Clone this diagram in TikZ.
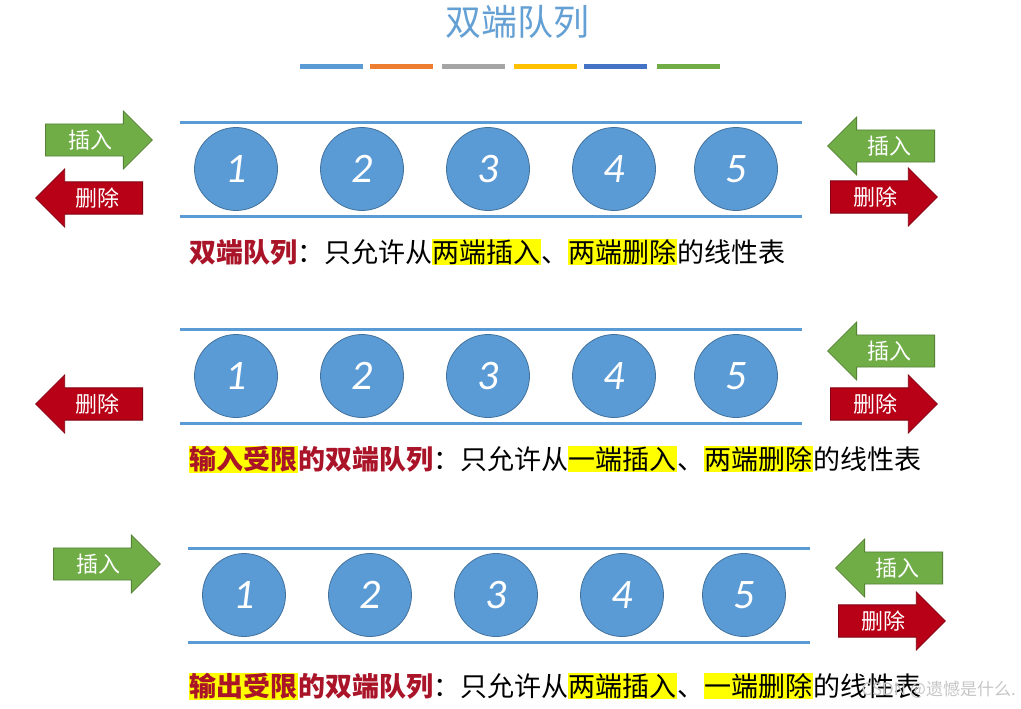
\documentclass[tikz,border=0pt]{standalone}
\usepackage{fontspec}
\setmainfont{Noto Sans CJK SC}
\newfontfamily\numfont{Carlito}
\usepackage{tikz}
\usetikzlibrary{shapes.arrows,positioning}
\usepackage{xcolor}
\definecolor{qblue}{RGB}{91,155,213}
\definecolor{qblueD}{RGB}{65,113,156}
\definecolor{titleblue}{RGB}{100,160,212}
\definecolor{barorange}{RGB}{237,125,49}
\definecolor{bargray}{RGB}{165,165,165}
\definecolor{baryellow}{RGB}{255,192,0}
\definecolor{bardblue}{RGB}{68,114,196}
\definecolor{bargreen}{RGB}{112,173,71}
\definecolor{arrgreenD}{RGB}{84,130,53}
\definecolor{arrred}{RGB}{184,0,22}
\definecolor{arrredD}{RGB}{130,0,16}
\definecolor{textred}{RGB}{170,20,40}
\definecolor{hlyellow}{RGB}{255,255,0}
\newcommand\hlbox[1]{{\setlength{\fboxsep}{0.5pt}\colorbox{hlyellow}{\vphantom{两}#1}}}
\newcommand\redtxt[1]{\textcolor{textred}{\bfseries #1}}

\tikzset{
  qcirc/.style={circle, fill=qblue, draw=qblueD, line width=0.8pt, minimum size=83pt,
    inner sep=0pt, text=white, font=\numfont\itshape\fontsize{42}{42}\selectfont},
  qline/.style={draw=qblue, line width=3pt},
  ins/.style={single arrow, draw=arrgreenD, fill=bargreen, line width=0.8pt, text=white,
    font=\fontsize{22}{22}\selectfont, single arrow head extend=13pt, inner ysep=5.5pt,
    minimum height=107pt, anchor=tail},
  del/.style={ins, draw=arrredD, fill=arrred},
  toleft/.style={shape border rotate=180},
  deftext/.style={anchor=west, font=\fontsize{27}{30}\selectfont, inner sep=0pt},
  bar/.style={line width=5pt}
}

\begin{document}
\begin{tikzpicture}[x=1pt, y=-1pt]
  \useasboundingbox (0,0) rectangle (1021,709);
  \node[text=titleblue, font=\fontsize{36}{40}\selectfont] (title) at (517,22) {双端队列};
  \foreach \c/\xa [count=\i] in {qblue/300, barorange/370, bargray/442, baryellow/514, bardblue/584, bargreen/657}
    \draw[bar, draw=\c] (\xa,67) -- ++(63,0);

  \foreach \r/\dx/\dy in {1/0/0, 2/0/207, 3/8/426}{
    \begin{scope}[shift={(\dx,\dy)}]
      \draw[qline] (180,122) -- (802,122);
      \draw[qline] (180,216) -- (802,216);
      \foreach \n/\cx in {1/236, 2/362, 3/488, 4/614, 5/736}
        \node[qcirc] (q\r-\n) at (\cx,169) {\n};
    \end{scope}
  }

  \node[ins] (insL1) at (45,140) {插入};
  \node[del, toleft] (delL1) at (143,198) {删除};
  \node[ins, toleft] (insR1) at (935,146) {插入};
  \node[del] (delR1) at (830,197) {删除};

  \node[del, toleft] (delL2) at (143,404) {删除};
  \node[ins, toleft] (insR2) at (935,351) {插入};
  \node[del] (delR2) at (830,404) {删除};

  \node[ins] (insL3) at (53,564) {插入};
  \node[ins, toleft] (insR3) at (943,568) {插入};
  \node[del] (delR3) at (838,621) {删除};

  \node[deftext] (def1) at (189,252) {\redtxt{双端队列}：只允许从\hlbox{两端插入}、\hlbox{两端删除}的线性表};
  \node[deftext] (def2) at (189,459) {\hlbox{\redtxt{输入受限}}\redtxt{的双端队列}：只允许从\hlbox{一端插入}、\hlbox{两端删除}的线性表};
  \node[deftext] (def3) at (189,686) {\hlbox{\redtxt{输出受限}}\redtxt{的双端队列}：只允许从\hlbox{两端插入}、\hlbox{一端删除}的线性表};
  \node[anchor=east, text=gray!45, font=\fontsize{17}{17}\selectfont, inner sep=0pt] (mark) at (1016,690) {CSDN @遗憾是什么.};
\end{tikzpicture}
\end{document}
